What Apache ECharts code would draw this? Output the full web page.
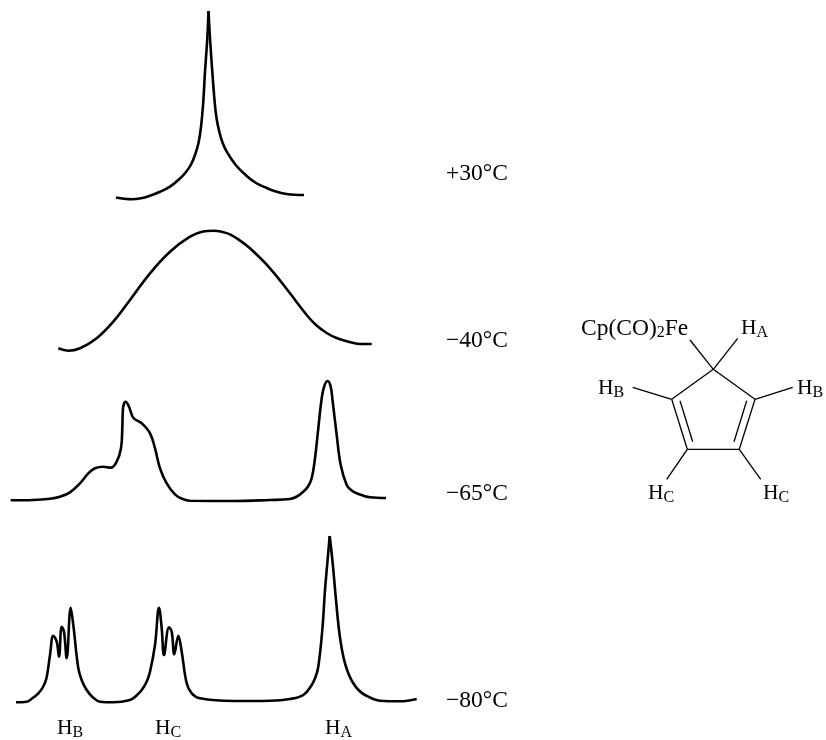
<!DOCTYPE html>
<html><head><meta charset="utf-8">
<style>html,body{margin:0;padding:0;background:#fff}#c{width:826px;height:740px}</style>
<script src="https://cdn.jsdelivr.net/npm/echarts@6/dist/echarts.min.js"></script>
</head><body><div id="c"></div>
<script>
const plus30Left = [[116,197.5],[124,198.8],[132,199.3],[141,198.3],[150,195.7],[160,191.8],[170,186.7],[180,178.5],[186,172],[191,164.5],[195,155],[198.5,143],[201,127],[203.2,103],[205,71.7],[207.3,38.3],[208.5,11]];
const plus30Right = [[208.5,11],[210,38.3],[212.3,71.7],[214.5,100],[216.5,118],[219.3,131.7],[222.5,142.5],[226.7,151.7],[235.7,165],[246.7,176],[256,183],[266.7,188],[276,191.5],[286.7,194],[304,195]];
const minus40 = [[58.3,348.3],[68.3,350.7],[80,348.3],[96.7,338.3],[113.3,321.7],[130,300],[150,273.3],[170,251.7],[190,236.7],[203,231.5],[213.3,230.7],[222,231.8],[230,234.3],[240,240.6],[250,248.3],[270,268.3],[290,293.3],[306.7,315],[316,325],[326.7,333],[336,337.8],[346.7,341.2],[360,344],[371.7,344]];
const minus65 = [[10.7,500.3],[33.3,500],[50,498.7],[60,496.7],[70,492.3],[80,483.3],[88.3,473.3],[95,468.3],[103.3,466.7],[110.7,467.7],[116.7,461.7],[121,448.3],[122.3,428.3],[123,408.3],[125.7,401.7],[129,406.7],[133.3,417.7],[141.7,423.3],[150,433.3],[155,448.3],[160,468.3],[166.7,483.3],[175,494.3],[182,498.7],[190,500.8],[233.3,501],[270,500],[290,499],[297,496.5],[303.3,491.7],[308,486.5],[311.7,478.3],[315,458.3],[318.3,428.3],[321.7,398.3],[324.3,386],[327.7,381],[330.7,386.7],[332.7,401.7],[336.7,435],[340.7,465],[346.7,485],[351,490],[356.7,493.3],[370,497.3],[386,498]];
const minus80Left = [[16,702.3],[26.7,701.7],[32,698.5],[38.3,693.3],[43,687],[46.5,678],[50,655],[53.3,635.7],[56.7,641.7],[59,656.7],[61.7,626.7],[64,631.7],[66.7,658.3],[70.7,607.7],[73.3,625],[78.3,668.3],[82,681],[86.7,690],[92.5,697],[100,701.7],[113.3,702.3],[130,700],[136,696],[141.7,690],[146.5,682],[150,671.7],[155,645],[159,607.7],[161.7,628.3],[164,655],[169,627.3],[171.7,631.7],[174.3,654.3],[178.3,635.7],[181.7,651.7],[186.7,683.3],[191.7,693.3],[200,698.3],[233.3,701],[270,700.7],[290,699],[303.3,695],[311.7,685],[315.5,677],[318.3,666.7],[322.3,630],[325,590],[327.3,563.3],[329.7,536]];
const minus80Right = [[329.7,536],[332.7,563.3],[335.7,596.7],[339,630],[342,650],[345,663.3],[349,675],[353.3,683.3],[358.5,690],[365,695],[380,700.7],[400,701.3],[416.7,699]];

const bondLines = [
  [[713.3,369.3],[671.7,399.3]],[[713.3,369.3],[755,399.3]],
  [[671.7,399.3],[687.3,449.3]],[[755,399.3],[739.3,449.3]],[[687.3,449.3],[739.3,449.3]],
  [[680,400.7],[692.7,441.7]],[[746.7,400.7],[734,441.7]],
  [[690,340],[713.3,369.3]],[[737.7,338.3],[713.3,369.3]],
  [[632.7,387.3],[671.7,399.3]],[[792.7,387.3],[755,399.3]],
  [[666.7,479.3],[687.3,449.3]],[[760.7,479.3],[739.3,449.3]]
];

const labelTexts = ['{b|+30°C}','{b|−40°C}','{b|−65°C}','{b|−80°C}','{t|H}{s|B}','{t|H}{s|C}','{t|H}{s|A}','{b|Cp(CO)}{s|2}{b|Fe}','{t|H}{s|A}','{t|H}{s|B}','{t|H}{s|B}','{t|H}{s|C}','{t|H}{s|C}'];
const labelX = [446,446,446,446,57,155,325,581,741,598,797,648,763];
const labelY = [174,341,494,701,729,729,729,329,329,389,389,494,494];

const chart = echarts.init(document.getElementById('c'), null, {renderer:'canvas'});
const curve = data => ({type:'line',data,smooth:0.4,symbol:'none',silent:true,lineStyle:{color:'#000',width:2.6,cap:'butt',join:'bevel'}});
const bond = data => ({type:'line',data,symbol:'none',silent:true,lineStyle:{color:'#000',width:1.3}});
const F = '"Liberation Serif","Times New Roman",serif';
chart.setOption({
  animation:false,backgroundColor:'#fff',
  grid:{left:0,right:0,top:0,bottom:0},
  xAxis:{type:'value',min:0,max:826,show:false},
  yAxis:{type:'value',min:0,max:740,inverse:true,show:false},
  series:[
    ...[plus30Left,plus30Right,minus40,minus65,minus80Left,minus80Right].map(curve),
    ...bondLines.map(bond),
    {type:'scatter',symbolSize:0,silent:true,clip:false,itemStyle:{opacity:1},
     data:labelTexts.map((t,i)=>({value:[labelX[i],labelY[i]],text:t})),
     label:{show:true,position:'right',distance:0,formatter:p=>p.data.text,
       color:'#000',fontFamily:F,fontSize:20,opacity:1,
       rich:{b:{fontFamily:F,fontSize:23.5,color:'#000',lineHeight:24,verticalAlign:'top'},
             t:{fontFamily:F,fontSize:21.5,color:'#000',lineHeight:24,verticalAlign:'top'},
             s:{fontFamily:F,fontSize:16,color:'#000',lineHeight:16,verticalAlign:'bottom',padding:[13,0,0,0]}}}}
  ]
});
</script></body></html>
